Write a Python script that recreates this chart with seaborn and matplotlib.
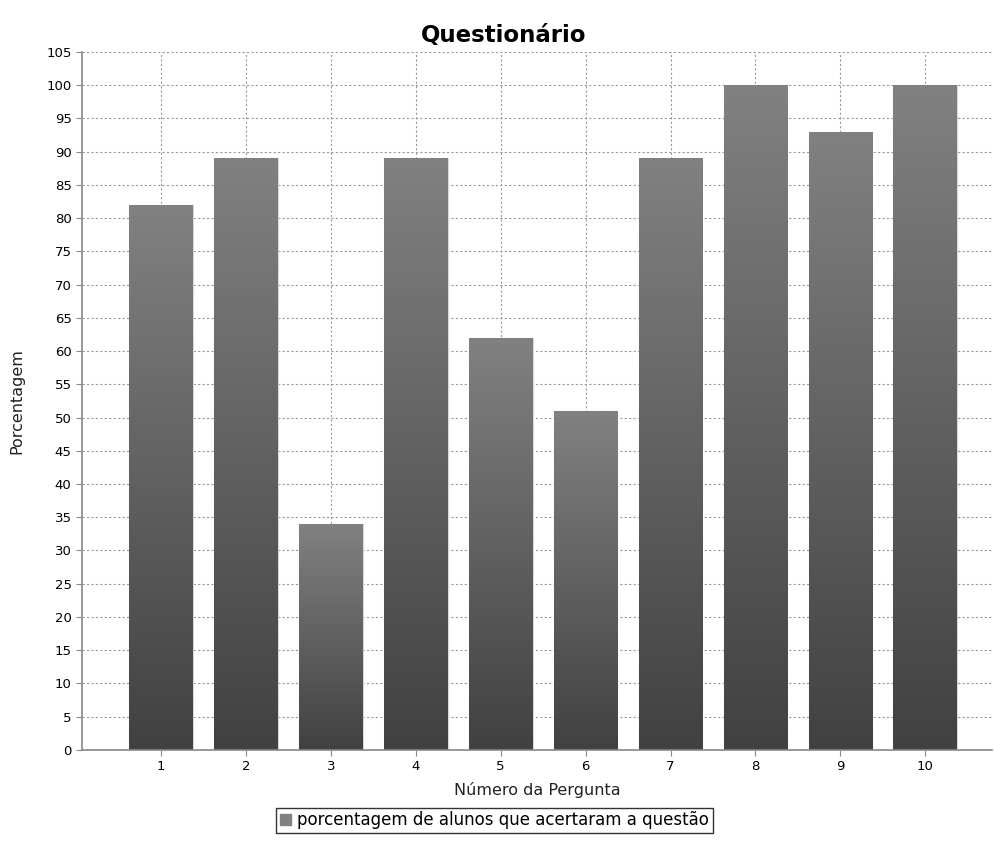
import numpy as np
import pandas as pd
import matplotlib
matplotlib.use("Agg")
import matplotlib.pyplot as plt
from matplotlib.patches import Patch
import seaborn as sns

# dados do questionário
perguntas = ["1", "2", "3", "4", "5", "6", "7", "8", "9", "10"]
porcentagens = [82, 89, 34, 89, 62, 51, 89, 100, 93, 100]
serie = "porcentagem de alunos que acertaram a questão"

df = pd.DataFrame({"Pergunta": perguntas, "Porcentagem": porcentagens})

sns.set_theme(style="white")
plt.rcParams["font.family"] = ["DejaVu Sans"]

fig = plt.figure(figsize=(9.95, 8.59), dpi=100)
ax = fig.add_axes([0.0824, 0.127, 0.915, 0.8125])

sns.barplot(data=df, x="Pergunta", y="Porcentagem", color="#666666",
            width=0.75, ax=ax, zorder=2)

# gradiente vertical em cada barra (claro em cima, escuro embaixo)
grad = np.linspace(0, 1, 256).reshape(-1, 1)
cmap = matplotlib.colors.LinearSegmentedColormap.from_list("g", ["#414141", "#818181"])
for p in ax.patches:
    x0, y0 = p.get_x(), p.get_y()
    w, h = p.get_width(), p.get_height()
    p.set_facecolor("none")
    p.set_edgecolor("#d8d8d8")
    p.set_linewidth(0.8)
    im = ax.imshow(grad, cmap=cmap, aspect="auto", origin="lower",
                   extent=(x0, x0 + w, y0, y0 + h), zorder=2)
    im.set_clip_path(p)

ax.set_xlim(-0.93, 9.79)
ax.set_ylim(0, 105)
ax.set_yticks(range(0, 106, 5))

ax.grid(True, color="#999999", linestyle=(0, (2, 2)), linewidth=0.8, zorder=0)
ax.set_axisbelow(True)

for s in ["top", "right"]:
    ax.spines[s].set_visible(False)
for s in ["left", "bottom"]:
    ax.spines[s].set_color("#888888")
    ax.spines[s].set_linewidth(1.2)

ax.tick_params(axis="both", which="both", length=4, width=0.8, color="#888888",
               labelsize=9.5, labelcolor="black", direction="out",
               bottom=True, left=True)

ax.set_title("Questionário", fontsize=16.5, fontweight="bold", color="black",
             x=0.463, pad=7)
ax.set_xlabel("Número da Pergunta", fontsize=11.5, color="#222222", labelpad=6)
ax.set_ylabel("Porcentagem", fontsize=11.5, color="#222222", labelpad=16)

handle = Patch(facecolor="#808080", edgecolor="#808080")
leg = fig.legend([handle], [serie], loc="center", bbox_to_anchor=(0.497, 0.045),
                 frameon=True, fancybox=False, fontsize=12, handlelength=0.7,
                 handleheight=0.7, handletextpad=0.35, borderpad=0.2,
                 borderaxespad=0)
leg.get_frame().set_edgecolor("black")
leg.get_frame().set_linewidth(1.0)
for t in leg.get_texts():
    t.set_color("black")

fig.savefig("out.png", dpi=100)
